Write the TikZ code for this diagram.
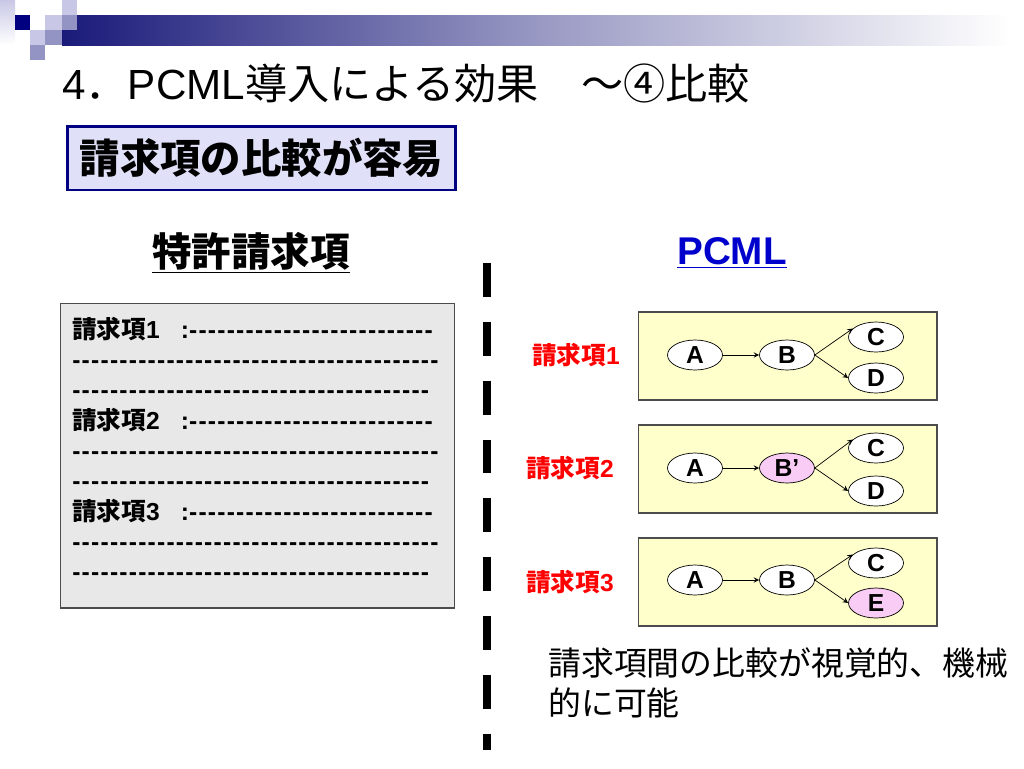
\documentclass[tikz,border=0pt]{standalone}
\usepackage{fontspec}
\setmainfont{Liberation Sans}
\newfontfamily\jp{Noto Sans CJK JP}
\usetikzlibrary{shapes.geometric}

\definecolor{navy}{HTML}{000080}
\definecolor{barblue}{HTML}{1A1A7A}
\definecolor{sqlight}{HTML}{C8C8E6}
\definecolor{sqmid}{HTML}{9494C4}
\definecolor{headfill}{HTML}{E0E0F8}
\definecolor{claimgray}{HTML}{E8E8E8}
\definecolor{boxyellow}{HTML}{FFFFCC}
\definecolor{nodepink}{HTML}{F8CCF4}
\definecolor{pcmlblue}{HTML}{0000CC}
\definecolor{claimred}{HTML}{FF0000}

\newcommand\dashrow[1]{\foreach \i in {1,...,#1}{-\kern0.7pt}}

\begin{document}
\begin{tikzpicture}[x=0.02cm, y=-0.02cm, >=stealth,
    part/.style={ellipse,draw,fill=white,minimum width=1.1cm,minimum height=0.6cm,inner sep=0pt,font=\bfseries\fontsize{14}{14}\selectfont},
    changed/.style={part,fill=nodepink},
    pcmlbox/.style={draw=black!70,fill=boxyellow,minimum width=5.98cm,minimum height=1.76cm,line width=0.6pt},
    claimlabel/.style={text=claimred,font=\jp\bfseries\fontsize{14}{14}\selectfont},
    row/.style={anchor=base west,inner sep=0pt,font=\bfseries\fontsize{14}{14}\selectfont}]

    \useasboundingbox (0,0) rectangle (1024,768);

    % header bar
    \shade[left color=barblue, right color=white, middle color=barblue!45] (62,15) rectangle (1010,45);
    \shade[top color=sqlight, bottom color=white] (0,0) rectangle (15,45);
    \fill[sqlight] (62,0) rectangle (77,15);
    \fill[navy] (15,15) rectangle (30,30);
    \fill[sqlight] (45,15) rectangle (62,30);
    \fill[sqmid] (62,15) rectangle (77,30);
    \fill[sqlight] (30,30) rectangle (45,45);
    \fill[sqmid] (45,30) rectangle (62,45);
    \fill[sqmid] (30,45) rectangle (45,60);

    \node[anchor=base west,inner sep=0pt,font=\fontsize{24}{24}\selectfont] (title) at (62,99)
        {4{\jp ．}PCML{\jp 導入による効果　～④比較}};

    \node[draw=navy,line width=1.7pt,fill=headfill,minimum width=7.78cm,minimum height=1.28cm,
          font=\jp\bfseries\fontsize{23}{23}\selectfont] (point) at (261.5,158) {請求項の比較が容易};

    % left: patent claims
    \node[font=\jp\bfseries\fontsize{22.5}{22.5}\selectfont] (claimhead) at (251,253) {\underline{特許請求項}};
    \node[draw=black!70,fill=claimgray,line width=0.6pt,minimum width=7.9cm,minimum height=6.1cm] (claimbox) at (257.5,455.5) {};
    \node[row] (r1) at (72,338) {{\jp 請求項}1\hspace{12pt}:\dashrow{26}};
    \node[row] (r2) at (72,368) {\dashrow{39}};
    \node[row] (r3) at (72,398) {\dashrow{38}};
    \node[row] (r4) at (72,429) {{\jp 請求項}2\hspace{12pt}:\dashrow{26}};
    \node[row] (r5) at (72,459) {\dashrow{39}};
    \node[row] (r6) at (72,489) {\dashrow{38}};
    \node[row] (r7) at (72,520) {{\jp 請求項}3\hspace{12pt}:\dashrow{26}};
    \node[row] (r8) at (72,550) {\dashrow{39}};
    \node[row] (r9) at (72,580) {\dashrow{38}};

    % divider
    \draw[line width=5pt,dash pattern=on 19.3pt off 14.2pt] (487,263) -- (487,750);

    % right: PCML
    \node[text=pcmlblue,font=\bfseries\fontsize{22}{22}\selectfont] (pcmlhead) at (732,253) {\underline{PCML}};

    \node[pcmlbox] (box1) at (787.5,356) {};
    \node[pcmlbox] (box2) at (787.5,469) {};
    \node[pcmlbox] (box3) at (787.5,582) {};

    \node[claimlabel] (lab1) at (576,355) {請求項{\rmfamily\bfseries 1}};
    \node[claimlabel] (lab2) at (570,468) {請求項{\rmfamily\bfseries 2}};
    \node[claimlabel] (lab3) at (570,582) {請求項{\rmfamily\bfseries 3}};

    \node[part] (a1) at (695,355) {A};
    \node[part] (b1) at (787,355) {B};
    \node[part] (c1) at (876,337) {C};
    \node[part] (d1) at (876,378) {D};

    \node[part] (a2) at (695,468) {A};
    \node[changed] (b2) at (787,468) {B’};
    \node[part] (c2) at (876,448) {C};
    \node[part] (d2) at (876,491) {D};

    \node[part] (a3) at (695,580) {A};
    \node[part] (b3) at (787,580) {B};
    \node[part] (c3) at (876,563) {C};
    \node[changed] (e3) at (876,603) {E};

    \draw[->] (a1) -- (b1);
    \draw[->] (b1.east) -- (c1.160);
    \draw[->] (b1.east) -- (d1.west);
    \draw[->] (a2) -- (b2);
    \draw[->] (b2.east) -- (c2.160);
    \draw[->] (b2.east) -- (d2.west);
    \draw[->] (a3) -- (b3);
    \draw[->] (b3.east) -- (c3.160);
    \draw[->] (b3.east) -- (e3.west);

    \node[anchor=north west,align=left,inner sep=0pt,font=\jp\fontsize{18.7}{22.7}\selectfont] (note) at (548,647)
        {請求項間の比較が視覚的、機械\\的に可能};
\end{tikzpicture}
\end{document}
